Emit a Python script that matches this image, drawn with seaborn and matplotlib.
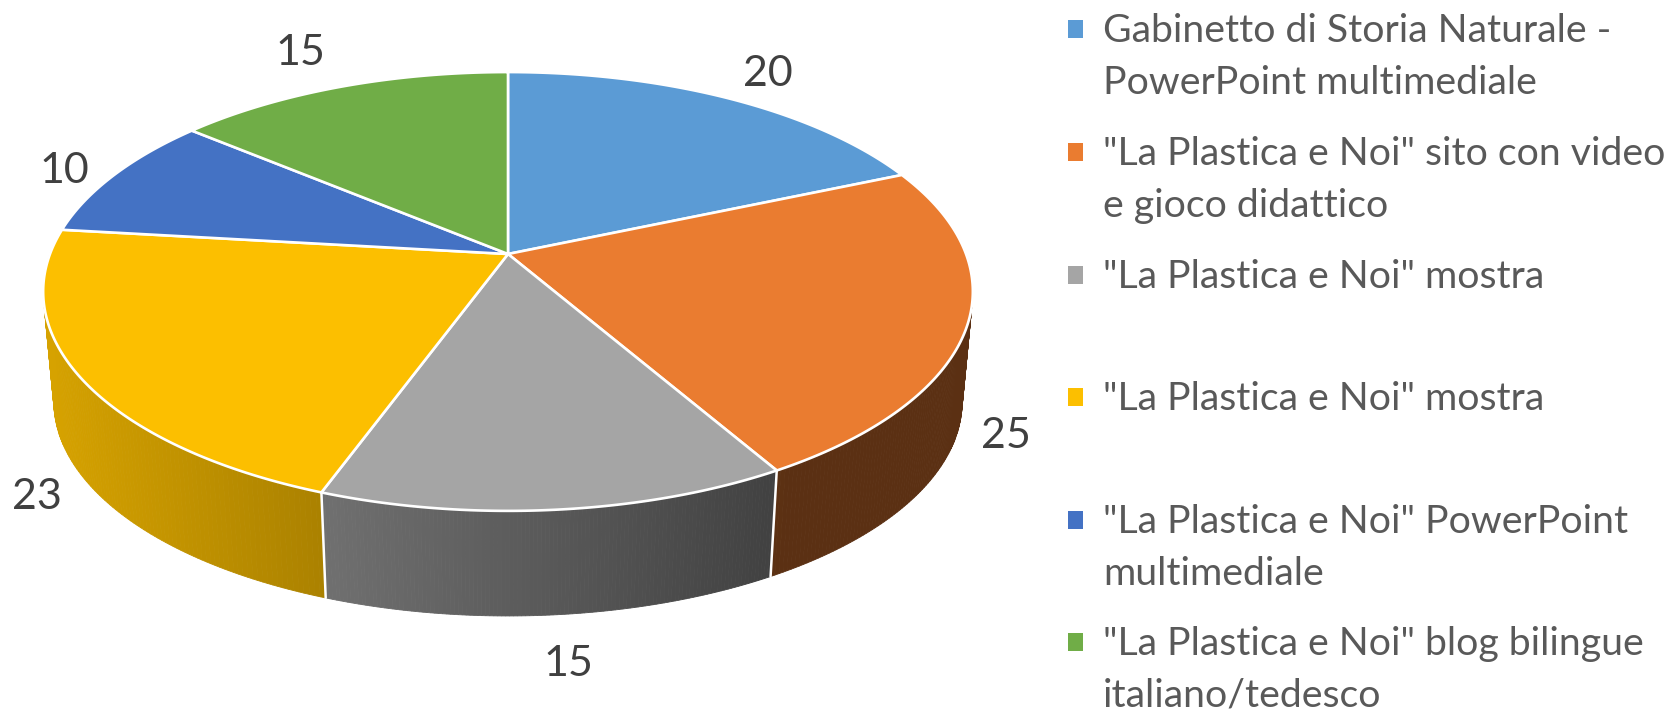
import matplotlib
matplotlib.use("Agg")
import matplotlib.pyplot as plt
from matplotlib.patches import Rectangle
import numpy as np
import seaborn as sns

labels = [
    "Gabinetto di Storia Naturale -\nPowerPoint multimediale",
    "\"La Plastica e Noi\" sito con video\ne gioco didattico",
    "\"La Plastica e Noi\" mostra",
    "\"La Plastica e Noi\" mostra",
    "\"La Plastica e Noi\" PowerPoint\nmultimediale",
    "\"La Plastica e Noi\" blog bilingue\nitaliano/tedesco",
]
values = [20, 25, 15, 23, 10, 15]
colors = ["#5B9BD5", "#EA7C30", "#A5A5A5", "#FCBF00", "#4472C4", "#70AD47"]

# where the numbers sit around the pie, in pixels
label_pos = [(768, 74), (1006, 436), (568, 664), (37, 497), (64, 171), (300, 53)]
legend_y = [29, 152, 274.5, 397, 520, 642]

# pie geometry in pixels
cx, cy = 508, 254
a, b, k = 458, 213, 0.1708
depth = 111
shrink = 0.977


def top_xy(theta):
    # theta clockwise from 12 o'clock, w gives the perspective
    u, v = np.sin(theta), np.cos(theta)
    w = 1 + k * v
    return cx + a * u / w, cy - b * v / w


def bottom_xy(theta):
    x, y = top_xy(theta)
    return cx + (x - cx) * shrink, cy + depth + (y - cy) * shrink


def shade(color, x):
    # side of the disc gets darker to the right
    f = np.clip(0.85 - (x - 44) * 0.00062, 0.39, 1)
    return tuple(c * f for c in color)


sns.set_theme(style="white")
plt.rcParams["font.family"] = ["Lato", "DejaVu Sans"]
palette = sns.color_palette(colors)

fig = plt.figure(figsize=(16.73, 7.12), dpi=100)
ax = fig.add_axes([0, 0, 1, 1])
ax.set_xlim(0, 1673)
ax.set_ylim(712, 0)
ax.axis("off")

edges = np.cumsum([0] + values) / sum(values) * 2 * np.pi

# sides first, only the front half is visible
for i, col in enumerate(palette):
    t0, t1 = max(edges[i], np.pi * 0.46), min(edges[i + 1], np.pi * 1.54)
    if t1 <= t0:
        continue
    ts = np.linspace(t0, t1, 120)
    for s0, s1 in zip(ts[:-1], ts[1:]):
        x0, y0 = top_xy(s0)
        x1, y1 = top_xy(s1)
        x2, y2 = bottom_xy(s1)
        x3, y3 = bottom_xy(s0)
        c = shade(col, (x0 + x1) / 2)
        ax.fill([x0, x1, x2, x3], [y0, y1, y2, y3], color=c, lw=0.6, zorder=2)

# white dividers on the side
for t in edges[1:-1]:
    if np.pi * 0.5 < t < np.pi * 1.5:
        x0, y0 = top_xy(t)
        x1, y1 = bottom_xy(t)
        ax.plot([x0, x1], [y0, y1], color="white", lw=1.8, zorder=3)

# top of the pie
for i, col in enumerate(palette):
    ts = np.linspace(edges[i], edges[i + 1], 200)
    xs, ys = top_xy(ts)
    ax.fill(np.r_[cx, xs], np.r_[cy, ys], facecolor=col, edgecolor="white",
            lw=1.9, joinstyle="round", zorder=4)

for (x, y), v in zip(label_pos, values):
    ax.text(x, y, str(v), fontsize=31, color="#404040", ha="center", va="center", zorder=5)

for lab, col, y in zip(labels, palette, legend_y):
    ax.add_patch(Rectangle((1068, y - 9), 15, 18, facecolor=col, edgecolor="none"))
    for j, line in enumerate(lab.split("\n")):
        ax.text(1103, y + 13 + 52 * j, line, fontsize=28.3, color="#595959",
                ha="left", va="baseline")

fig.savefig("out.png", dpi=100)
